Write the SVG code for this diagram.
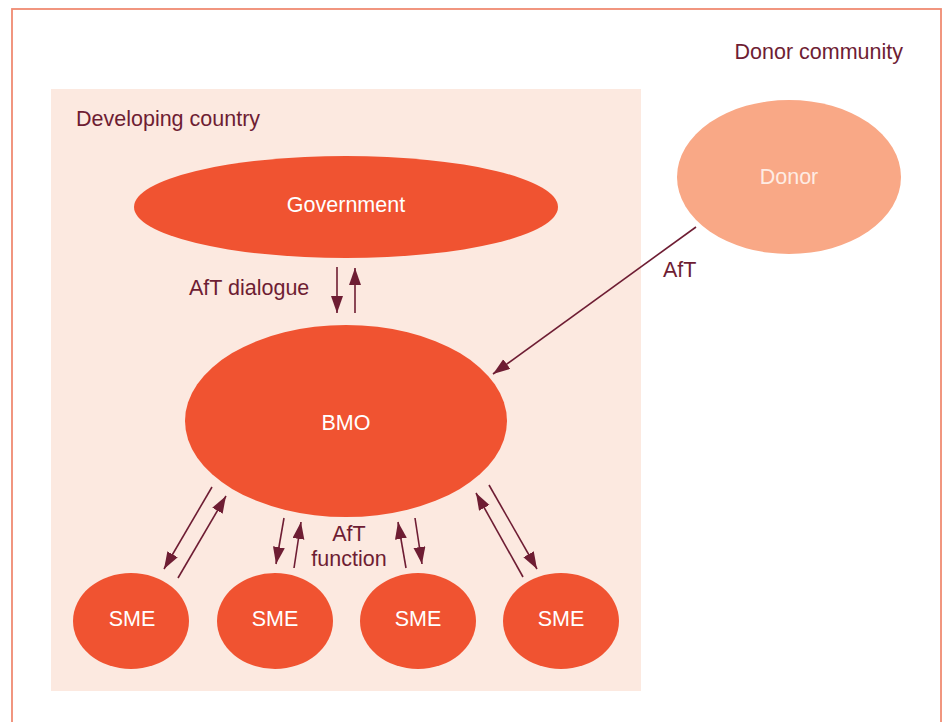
<svg xmlns="http://www.w3.org/2000/svg" width="947" height="722" viewBox="0 0 947 722">
<style>
.lbl{font-family:"Liberation Sans",Arial,sans-serif;font-size:21.5px;fill:#6e1d33}
.in{font-family:"Liberation Sans",Arial,sans-serif;font-size:21.5px;fill:#ffffff;text-anchor:middle}
.node{fill:#f05331}
.c{stroke:#6e1d33;stroke-width:1.6;fill:none;marker-end:url(#ah)}
</style>
<defs>
<marker id="ah" markerUnits="userSpaceOnUse" markerWidth="18" markerHeight="13" refX="17" refY="6" orient="auto">
<path d="M0,0 L17,6 L0,12 z" fill="#6e1d33"/>
</marker>
</defs>
<rect width="947" height="722" fill="#ffffff"/>
<g id="donor-community">
<rect x="12" y="9" width="929" height="730" fill="none" stroke="#f08b72" stroke-width="1.8"/>
<text class="lbl" x="903" y="59" text-anchor="end">Donor community</text>
</g>
<g id="developing-country">
<rect x="51" y="89" width="590" height="602" fill="#fce9e0"/>
<text class="lbl" x="76" y="126">Developing country</text>
</g>
<g id="government">
<ellipse class="node" cx="346" cy="207" rx="212" ry="51"/>
<text class="in" x="346" y="212">Government</text>
</g>
<g id="donor">
<ellipse cx="789" cy="177" rx="112" ry="77" fill="#f9a886"/>
<text class="in" x="789" y="184" style="fill:#feece4">Donor</text>
</g>
<g id="bmo">
<ellipse class="node" cx="346" cy="421" rx="161" ry="96"/>
<text class="in" x="346" y="430">BMO</text>
</g>
<g id="sme1">
<ellipse class="node" cx="131" cy="621" rx="58" ry="48"/>
<text class="in" x="132" y="626">SME</text>
</g>
<g id="sme2">
<ellipse class="node" cx="275" cy="621" rx="58" ry="48"/>
<text class="in" x="275" y="626">SME</text>
</g>
<g id="sme3">
<ellipse class="node" cx="418" cy="621" rx="58" ry="48"/>
<text class="in" x="418" y="626">SME</text>
</g>
<g id="sme4">
<ellipse class="node" cx="561" cy="621" rx="58" ry="48"/>
<text class="in" x="561" y="626">SME</text>
</g>
<g id="connectors">
<line class="c" x1="337" y1="267" x2="337" y2="313"/>
<line class="c" x1="355" y1="313" x2="355" y2="268"/>
<line class="c" x1="696" y1="227" x2="493" y2="374"/>
<line class="c" x1="212" y1="487" x2="164" y2="569"/>
<line class="c" x1="178" y1="578" x2="226" y2="496"/>
<line class="c" x1="284" y1="518" x2="276" y2="564"/>
<line class="c" x1="294" y1="568" x2="301" y2="522"/>
<line class="c" x1="406" y1="568" x2="398" y2="522"/>
<line class="c" x1="415" y1="518" x2="422" y2="564"/>
<line class="c" x1="523" y1="577" x2="476" y2="493"/>
<line class="c" x1="489" y1="485" x2="537" y2="569"/>
<text class="lbl" x="189" y="295">AfT dialogue</text>
<text class="lbl" x="663" y="277">AfT</text>
<text class="lbl" x="349" y="541" text-anchor="middle">AfT</text>
<text class="lbl" x="349" y="566" text-anchor="middle">function</text>
</g>
</svg>
